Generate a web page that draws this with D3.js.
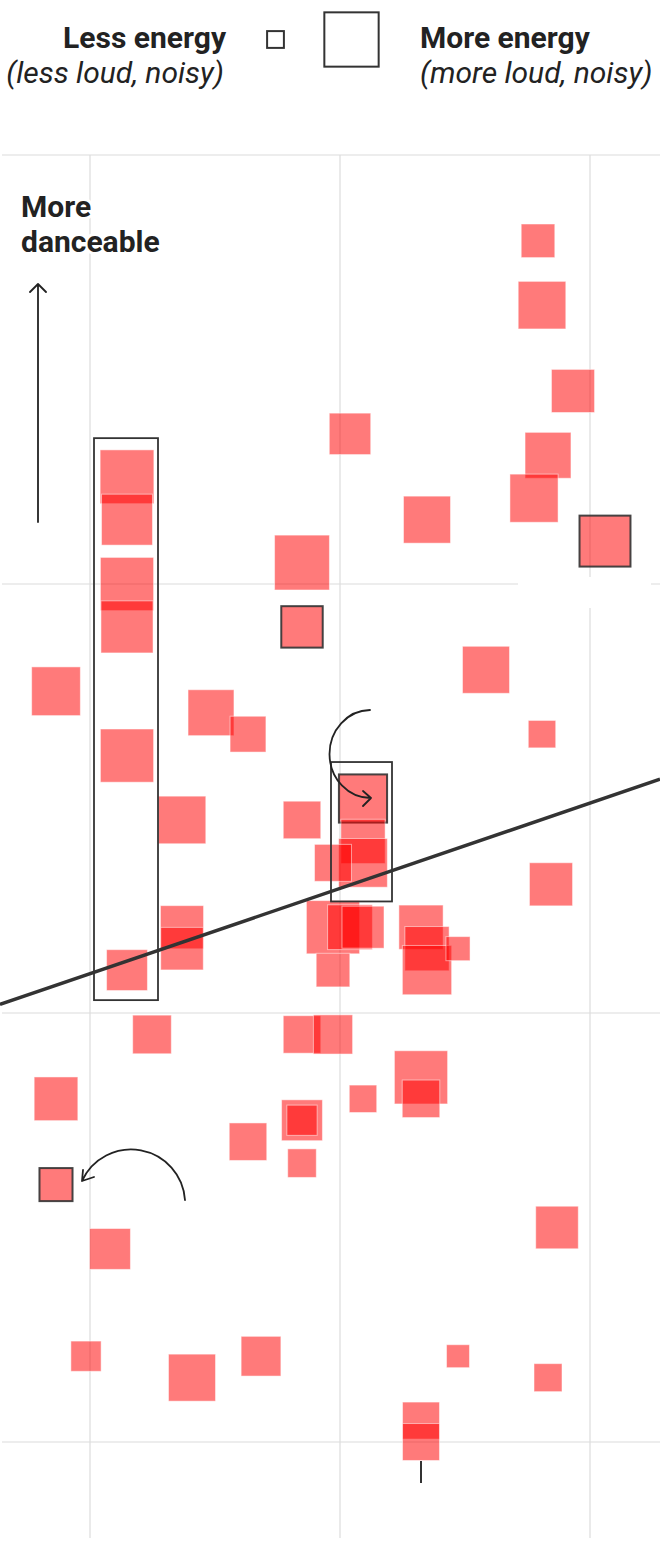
<!DOCTYPE html>
<html>
<head>
<meta charset="utf-8">
<script src="https://cdn.jsdelivr.net/npm/d3@7"></script>
<style>
body { margin: 0; background: #fff; }
svg text { font-family: Roboto, "Noto Sans", sans-serif; fill: #222; }
</style>
</head>
<body>
<div id="chart"></div>
<script>
// songs: horizontal position, danceability (%), energy (0-1 -> square size)
var xValues = [144.8, 145.2, 148.3, 126.0, 145.8, 103.7, 144.4, 103.7, 133.7, 151.5,
    121.2, 103.7, 103.7, 121.2, 139.6, 96.6, 112.1, 115.8, 145.2, 103.7,
    127.3, 109.2, 121.2, 127.3, 127.3, 124.3, 146.1, 109.2, 109.2, 124.3,
    126.0, 127.3, 124.3, 133.1, 133.7, 133.7, 136.8, 103.7, 106.2, 121.2,
    124.3, 133.1, 133.1, 127.3, 96.6, 121.2, 121.2, 115.8, 121.2, 96.6,
    102.0, 146.7, 99.6, 110.2, 117.1, 136.8, 145.8, 133.1, 133.1];
var danceability = [76, 73, 69, 67, 66, 65, 64, 63, 63, 62,
    61, 60, 58, 58, 56, 55, 54, 53, 53, 52,
    50, 49, 49, 48, 47, 47, 46, 44, 43, 44,
    44, 44, 42, 44, 43, 42, 43, 42, 39, 39,
    39, 37, 36, 36, 36, 35, 35, 34, 33, 32,
    29, 30, 24, 23, 24, 24, 23, 21, 20];
var energy = [0.60, 0.85, 0.77, 0.74, 0.82, 0.96, 0.86, 0.91, 0.84, 0.91,
    0.98, 0.95, 0.93, 0.74, 0.84, 0.87, 0.82, 0.64, 0.49, 0.95,
    0.86, 0.85, 0.67, 0.79, 0.87, 0.66, 0.77, 0.77, 0.76, 0.95,
    0.80, 0.75, 0.60, 0.79, 0.79, 0.88, 0.43, 0.73, 0.69, 0.67,
    0.70, 0.95, 0.67, 0.49, 0.78, 0.73, 0.54, 0.67, 0.51, 0.59,
    0.73, 0.76, 0.54, 0.84, 0.71, 0.41, 0.50, 0.66, 0.66];
var outlined = [9, 13, 20, 49];

var xTicks = [100, 125, 150];
var yTicks = [80, 60, 40, 20];
var trendX = [91, 157];
var trendY = [40.4, 50.9];
var legendEnergy = [0.3, 0.97];

// boxes around groups: [x0, x1, y0, y1] in data units
var boxes = [[100.4, 106.8, 66.8, 40.6], [124.1, 130.2, 51.7, 45.2]];
var markX = 133.1;

var width = 660, height = 1554;

var svg = d3.select("#chart").append("svg")
    .attr("width", width)
    .attr("height", height);

var x = d3.scaleLinear().domain([91, 157]).range([0, 660]),
    y = d3.scaleLinear().domain([80, 20]).range([155, 1442]),
    side = d3.scaleLinear().domain([0, 1]).range([0, 56]);

// grid
svg.append("g").selectAll("line.h")
    .data(yTicks).enter().append("line")
    .attr("x1", 2).attr("x2", width)
    .attr("y1", function(d) { return y(d); })
    .attr("y2", function(d) { return y(d); })
    .attr("stroke", "#dcdcdc").attr("stroke-width", 1.2);

svg.append("g").selectAll("line.v")
    .data(xTicks).enter().append("line")
    .attr("x1", function(d) { return x(d); })
    .attr("x2", function(d) { return x(d); })
    .attr("y1", y(80)).attr("y2", 1538)
    .attr("stroke", "#dcdcdc").attr("stroke-width", 1.2);

// blank label patch over grid
svg.append("rect")
    .attr("x", 518).attr("y", 577).attr("width", 133).attr("height", 31)
    .attr("fill", "#fff");

var songs = xValues.map(function(v, i) {
    return {x: v, y: danceability[i], e: energy[i], hi: outlined.indexOf(i) >= 0};
});

svg.append("g").selectAll("rect")
    .data(songs).enter().append("rect")
    .attr("x", function(d) { return x(d.x) - side(d.e) / 2; })
    .attr("y", function(d) { return y(d.y) - side(d.e) / 2; })
    .attr("width", function(d) { return side(d.e); })
    .attr("height", function(d) { return side(d.e); })
    .attr("fill", "#ff0000")
    .attr("fill-opacity", 0.52)
    .attr("stroke", function(d) { return d.hi ? "#333" : "#fff"; })
    .attr("stroke-opacity", function(d) { return d.hi ? 0.9 : 0.5; })
    .attr("stroke-width", function(d) { return d.hi ? 2 : 1; });

// trend line
svg.append("line")
    .attr("x1", x(trendX[0])).attr("y1", y(trendY[0]))
    .attr("x2", x(trendX[1])).attr("y2", y(trendY[1]))
    .attr("stroke", "#333").attr("stroke-width", 3.5);

// boxes
svg.append("g").selectAll("rect")
    .data(boxes).enter().append("rect")
    .attr("x", function(d) { return x(d[0]); })
    .attr("y", function(d) { return y(d[2]); })
    .attr("width", function(d) { return x(d[1]) - x(d[0]); })
    .attr("height", function(d) { return y(d[3]) - y(d[2]); })
    .attr("fill", "none").attr("stroke", "#333").attr("stroke-width", 1.8);

svg.append("line")
    .attr("x1", x(markX)).attr("x2", x(markX))
    .attr("y1", 1461).attr("y2", 1483)
    .attr("stroke", "#333").attr("stroke-width", 2);

// arrows
var arrow = svg.append("g").attr("fill", "none").attr("stroke", "#222")
    .attr("stroke-width", 1.8).attr("stroke-linecap", "round").attr("stroke-linejoin", "round");
arrow.append("path").attr("d", "M38,522V284M30,292L38,284L46,292");
arrow.append("path").attr("d", "M370,710A41,44 0 0 0 371,798M363,791L371,798L363,806");
arrow.append("path").attr("d", "M185,1200A54,54 0 0 0 82,1181M83,1170L82,1181L94,1177");

// legend
var legend = svg.append("g");
legend.selectAll("rect")
    .data(legendEnergy).enter().append("rect")
    .attr("x", function(d, i) { return [275.5, 351.5][i] - side(d) / 2; })
    .attr("y", function(d) { return 39.5 - side(d) / 2; })
    .attr("width", function(d) { return side(d); })
    .attr("height", function(d) { return side(d); })
    .attr("fill", "none").attr("stroke", "#333").attr("stroke-width", 2);

legend.append("text").attr("x", 226).attr("y", 48).attr("text-anchor", "end")
    .style("font-size", "30px").style("font-weight", "bold").text("Less energy");
legend.append("text").attr("x", 224).attr("y", 83).attr("text-anchor", "end")
    .style("font-size", "30px").style("font-style", "italic").text("(less loud, noisy)");
legend.append("text").attr("x", 420).attr("y", 48)
    .style("font-size", "30px").style("font-weight", "bold").text("More energy");
legend.append("text").attr("x", 420).attr("y", 83)
    .style("font-size", "30px").style("font-style", "italic").text("(more loud, noisy)");

svg.append("g").selectAll("text")
    .data(["More", "danceable"]).enter().append("text")
    .attr("x", 21).attr("y", function(d, i) { return 217 + i * 35; })
    .style("font-size", "30px").style("font-weight", "bold")
    .style("stroke", "#fff").style("stroke-width", 6).style("paint-order", "stroke")
    .text(function(d) { return d; });
</script>
</body>
</html>
